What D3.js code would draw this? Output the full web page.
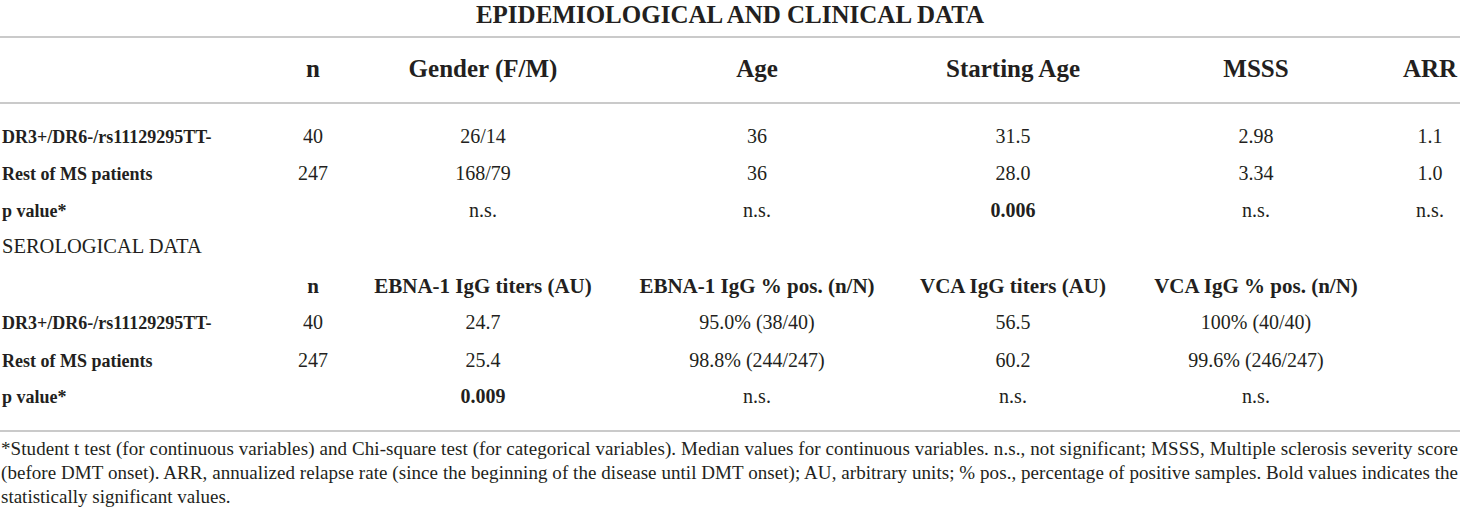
<!DOCTYPE html>
<html>
<head>
<meta charset="utf-8">
<script src="https://cdn.jsdelivr.net/npm/d3@7"></script>
<style>
  body { margin: 0; background: #fff; }
  text { font-family: "Liberation Serif", "DejaVu Serif", serif; fill: #231f20; }
</style>
</head>
<body>
<div id="table"></div>
<script>
// table content
const title = "EPIDEMIOLOGICAL AND CLINICAL DATA";
const groups = ["DR3+/DR6-/rs11129295TT-", "Rest of MS patients"];
const pLabel = "p value*";

const epiColumns = ["n", "Gender (F/M)", "Age", "Starting Age", "MSSS", "ARR"];
const epiGroup1 = ["40", "26/14", "36", "31.5", "2.98", "1.1"];
const epiGroup2 = ["247", "168/79", "36", "28.0", "3.34", "1.0"];
const epiPValues = ["", "n.s.", "n.s.", "0.006", "n.s.", "n.s."];

const seroTitle = "SEROLOGICAL DATA";
const seroColumns = ["n", "EBNA-1 IgG titers (AU)", "EBNA-1 IgG % pos. (n/N)", "VCA IgG titers (AU)", "VCA IgG % pos. (n/N)"];
const seroGroup1 = ["40", "24.7", "95.0% (38/40)", "56.5", "100% (40/40)"];
const seroGroup2 = ["247", "25.4", "98.8% (244/247)", "60.2", "99.6% (246/247)"];
const seroPValues = ["", "0.009", "n.s.", "n.s.", "n.s."];

const footnote = [
  "*Student t test (for continuous variables) and Chi-square test (for categorical variables). Median values for continuous variables. n.s., not significant; MSSS, Multiple sclerosis severity score",
  "(before DMT onset). ARR, annualized relapse rate (since the beginning of the disease until DMT onset); AU, arbitrary units; % pos., percentage of positive samples. Bold values indicates the",
  "statistically significant values."
];

const width = 1460, height = 516;

const svg = d3.select("#table")
  .append("svg")
  .attr("width", width)
  .attr("height", height);

// column slots -> x centre
const x = d3.scaleOrdinal()
  .domain(d3.range(6))
  .range([313, 483, 757, 1013, 1256, 1430]);

// row keys -> text baseline
const y = d3.scaleOrdinal()
  .domain(["title", "epiHead", "epiG1", "epiG2", "epiP", "seroTitle", "seroHead", "seroG1", "seroG2", "seroP", "fn0", "fn1", "fn2"])
  .range([23, 77, 143, 180, 217, 253, 293, 329, 367, 403, 455, 479, 503]);

// horizontal rules
svg.append("g")
  .selectAll("line")
  .data([37, 103, 431])
  .join("line")
  .attr("x1", 0).attr("x2", width)
  .attr("y1", d => d).attr("y2", d => d)
  .attr("stroke", "#b9b9b9")
  .attr("stroke-width", 1.6);

svg.append("text")
  .attr("x", width / 2)
  .attr("y", y("title"))
  .attr("text-anchor", "middle")
  .attr("font-size", 25)
  .attr("font-weight", "bold")
  .text(title);

const isSignificant = v => !isNaN(+v) && v !== "" && +v < 0.05;

function drawSection(prefix, columns, rows, headSize) {
  // header row
  svg.append("g")
    .selectAll("text")
    .data(columns)
    .join("text")
    .attr("x", (d, i) => x(i))
    .attr("y", y(prefix + "Head"))
    .attr("text-anchor", "middle")
    .attr("font-size", headSize)
    .attr("font-weight", "bold")
    .text(d => d);

  rows.forEach(r => {
    const g = svg.append("g");
    g.append("text")
      .attr("x", 2)
      .attr("y", y(prefix + r.key))
      .attr("font-size", 18)
      .attr("font-weight", "bold")
      .text(r.label);
    g.selectAll("text.cell")
      .data(r.values)
      .join("text")
      .attr("class", "cell")
      .attr("x", (d, i) => x(i))
      .attr("y", y(prefix + r.key))
      .attr("text-anchor", "middle")
      .attr("font-size", 20)
      .attr("font-weight", d => isSignificant(d) ? "bold" : "normal")
      .text(d => d);
  });
}

drawSection("epi", epiColumns, [
  { key: "G1", label: groups[0], values: epiGroup1 },
  { key: "G2", label: groups[1], values: epiGroup2 },
  { key: "P", label: pLabel, values: epiPValues }
], 25);

svg.append("text")
  .attr("x", 2)
  .attr("y", y("seroTitle"))
  .attr("font-size", 20.5)
  .text(seroTitle);

drawSection("sero", seroColumns, [
  { key: "G1", label: groups[0], values: seroGroup1 },
  { key: "G2", label: groups[1], values: seroGroup2 },
  { key: "P", label: pLabel, values: seroPValues }
], 21);

// footnote, justified lines stretched to the full width
svg.append("g")
  .selectAll("text")
  .data(footnote)
  .join("text")
  .attr("x", 1)
  .attr("y", (d, i) => y("fn" + i))
  .attr("font-size", 19)
  .each(function (d, i) {
    if (i < footnote.length - 1) {
      d3.select(this).attr("textLength", width - 3).attr("lengthAdjust", "spacing");
    }
  })
  .text(d => d);
</script>
</body>
</html>
